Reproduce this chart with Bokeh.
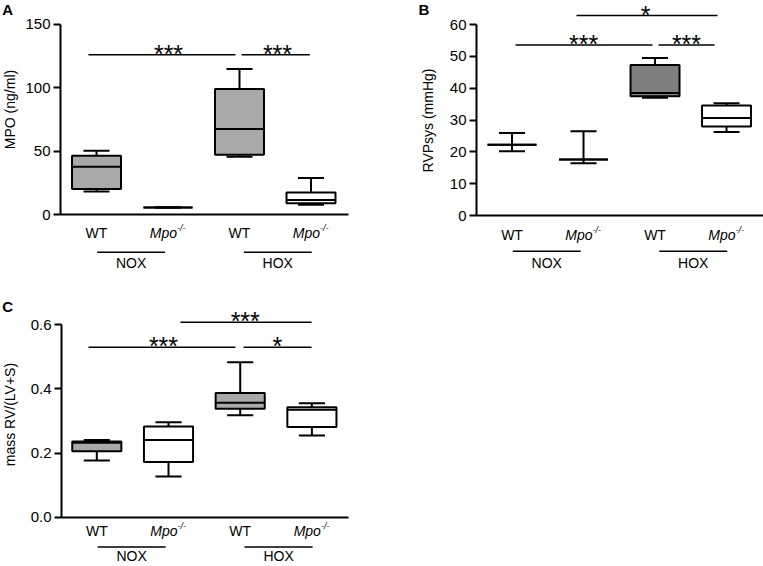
import math
from bokeh.plotting import figure
from bokeh.layouts import column, row
from bokeh.models import Range1d, FixedTicker, NumeralTickFormatter, ColumnDataSource
from bokeh.core.properties import value
from bokeh.embed import file_html
from bokeh.resources import INLINE

# ---------------- data ----------------
positions = [1, 2, 3, 4]
genotypes = ["WT", "Mpo", "WT", "Mpo"]
conditions = ["NOX", "HOX"]
cond_centers = [1.485, 3.535]
cond_x0 = [1.01, 3.06]
cond_x1 = [1.96, 4.01]

# Panel A : MPO (ng/ml)
a_lo = [18.4, 5.8, 45.8, 7.9]
a_q1 = [20.3, 5.8, 47.4, 9.2]
a_med = [37.9, 5.8, 67.7, 11.6]
a_q3 = [46.6, 5.8, 99.2, 17.6]
a_hi = [50.5, 5.8, 115.0, 29.0]
a_fill = ["#a9a9a9", "#ffffff", "#a9a9a9", "#ffffff"]
a_sig_x0 = [0.888, 3.028]
a_sig_x1 = [2.944, 3.983]
a_sig_y = [126.1, 126.1]
a_sig_tx = [2.007, 3.531]
a_sig_text = ["***", "***"]

# Panel B : RVPsys (mmHg)
b_lo = [20.2, 16.4, 37.0, 26.2]
b_q1 = [22.2, 17.6, 37.5, 28.0]
b_med = [22.2, 17.6, 38.5, 30.6]
b_q3 = [22.2, 17.6, 47.3, 34.6]
b_hi = [25.9, 26.5, 49.5, 35.3]
b_fill = ["#a9a9a9", "#ffffff", "#7f7f7f", "#ffffff"]
b_sig_x0 = [1.049, 3.049, 1.902]
b_sig_x1 = [2.965, 3.832, 3.874]
b_sig_y = [53.6, 53.6, 62.8]
b_sig_tx = [2.0, 3.44, 2.867]
b_sig_text = ["***", "***", "*"]

# Panel C : mass RV/(LV+S)
c_lo = [0.177, 0.127, 0.318, 0.255]
c_q1 = [0.206, 0.172, 0.338, 0.281]
c_med = [0.232, 0.241, 0.357, 0.335]
c_q3 = [0.236, 0.283, 0.387, 0.343]
c_hi = [0.241, 0.296, 0.483, 0.355]
c_fill = ["#a9a9a9", "#ffffff", "#a9a9a9", "#ffffff"]
c_sig_x0 = [0.884, 3.046, 2.167]
c_sig_x1 = [2.934, 3.995, 3.995]
c_sig_y = [0.530, 0.530, 0.608]
c_sig_tx = [1.93, 3.52, 3.07]
c_sig_text = ["***", "*", "***"]

FONT = value("Liberation Sans")
BOX_HALF = 0.3425
CAP_HALF = 0.182


def make_panel(letter, ylabel, lo, q1, med, q3, hi, fill, sx0, sx1, sy, stx, stext,
               x_range, y_range, axis_x, x_bounds, y_bounds, ticks, width, height,
               geno_y, line_y, cond_y, letter_pos, title_pos, fmt=None):
    p = figure(width=width, height=height, x_range=Range1d(*x_range), y_range=Range1d(*y_range),
               output_backend="svg", toolbar_location=None, tools="",
               min_border_left=0, min_border_right=0, min_border_top=0, min_border_bottom=0)
    p.outline_line_color = None
    p.grid.visible = False
    p.background_fill_color = "white"
    p.border_fill_color = "white"

    # y axis drawn at a fixed data location
    ya = p.yaxis[0]
    ya.fixed_location = axis_x
    ya.bounds = y_bounds
    ya.ticker = FixedTicker(ticks=ticks)
    ya.minor_tick_line_color = None
    ya.major_tick_in = 0
    ya.major_tick_out = 7
    ya.major_tick_line_width = 2
    ya.axis_line_width = 2
    ya.axis_line_color = "black"
    ya.major_tick_line_color = "black"
    ya.major_label_text_font = "Liberation Sans"
    ya.major_label_text_font_size = "15px"
    ya.major_label_text_color = "black"
    ya.major_label_standoff = 3
    if fmt is not None:
        ya.formatter = NumeralTickFormatter(format=fmt)

    # x axis placed at y = 0
    xa = p.xaxis[0]
    xa.fixed_location = 0
    xa.bounds = x_bounds
    xa.ticker = FixedTicker(ticks=[])
    xa.minor_tick_line_color = None
    xa.major_tick_in = 0
    xa.major_tick_out = 0
    xa.axis_line_width = 2
    xa.axis_line_color = "black"

    left = [x - BOX_HALF for x in positions]
    right = [x + BOX_HALF for x in positions]
    cl = [x - CAP_HALF for x in positions]
    cr = [x + CAP_HALF for x in positions]

    src = ColumnDataSource(dict(x=positions, lo=lo, q1=q1, med=med, q3=q3, hi=hi,
                                left=left, right=right, cl=cl, cr=cr, fill=fill))
    p.segment(x0="x", y0="q3", x1="x", y1="hi", source=src, line_color="black", line_width=2)
    p.segment(x0="x", y0="q1", x1="x", y1="lo", source=src, line_color="black", line_width=2)
    p.quad(left="left", right="right", bottom="q1", top="q3", fill_color="fill",
           line_color="black", line_width=2, source=src)
    p.segment(x0="left", y0="med", x1="right", y1="med", source=src, line_color="black", line_width=2)
    p.segment(x0="cl", y0="hi", x1="cr", y1="hi", source=src, line_color="black", line_width=2)
    p.segment(x0="cl", y0="lo", x1="cr", y1="lo", source=src, line_color="black", line_width=2)

    # significance bars
    p.segment(x0=sx0, y0=sy, x1=sx1, y1=sy, line_color="black", line_width=1.5)
    p.text(x=stx, y=sy, text=stext, text_font=FONT, text_font_size=value("25px"),
           text_align="center", text_baseline="alphabetic", y_offset=-1, text_color="black")

    # genotype labels
    wt_x = [x for x, g in zip(positions, genotypes) if g == "WT"]
    mpo_x = [x for x, g in zip(positions, genotypes) if g == "Mpo"]
    p.text(x=wt_x, y=[geno_y] * len(wt_x), text=["WT"] * len(wt_x), text_font=FONT,
           text_font_size=value("14px"), text_align="center", text_baseline="middle", text_color="black")
    p.text(x=mpo_x, y=[geno_y] * len(mpo_x), text=["Mpo"] * len(mpo_x), text_font=FONT,
           text_font_style="italic", text_font_size=value("14px"), text_align="right",
           text_baseline="middle", x_offset=9, text_color="black")
    p.text(x=mpo_x, y=[geno_y] * len(mpo_x), text=["-/-"] * len(mpo_x), text_font=FONT,
           text_font_style="italic", text_font_size=value("9px"), text_align="left",
           text_baseline="middle", x_offset=9, y_offset=-5, text_color="black")

    # condition lines and labels
    p.segment(x0=cond_x0, y0=[line_y] * 2, x1=cond_x1, y1=[line_y] * 2, line_color="black", line_width=1.5)
    p.text(x=cond_centers, y=[cond_y] * 2, text=conditions, text_font=FONT,
           text_font_size=value("14px"), text_align="center", text_baseline="middle", text_color="black")

    # y axis title (rotated)
    p.text(x=[title_pos[0]], y=[title_pos[1]], text=[ylabel], text_font=FONT, angle=math.pi / 2,
           text_font_size=value("14px"), text_align="center", text_baseline="middle", text_color="black")

    # panel letter
    p.text(x=[letter_pos[0]], y=[letter_pos[1]], text=[letter], text_font=FONT,
           text_font_size=value("15px"), text_font_style="bold", text_align="left",
           text_baseline="top", text_color="black")
    return p


pA = make_panel("A", "MPO (ng/ml)", a_lo, a_q1, a_med, a_q3, a_hi, a_fill,
                a_sig_x0, a_sig_x1, a_sig_y, a_sig_tx, a_sig_text,
                x_range=(-0.3427, 5.2517), y_range=(-51.78, 168.9), axis_x=0.4965,
                x_bounds=(0.4965, 4.5245), y_bounds=(0, 150),
                ticks=[0, 50, 100, 150], width=400, height=280,
                geno_y=-14.3, line_y=-29.5, cond_y=-38.0,
                letter_pos=(-0.319, 168.5), title_pos=(-0.2098, 83.0))

pB = make_panel("B", "RVPsys (mmHg)", b_lo, b_q1, b_med, b_q3, b_hi, b_fill,
                b_sig_x0, b_sig_x1, b_sig_y, b_sig_tx, b_sig_text,
                x_range=(-0.5594, 4.517), y_range=(-20.42, 67.55), axis_x=0.5035,
                x_bounds=(0.5035, 4.517), y_bounds=(0, 60),
                ticks=[0, 10, 20, 30, 40, 50, 60], width=363, height=280,
                geno_y=-6.03, line_y=-11.2, cond_y=-14.9,
                letter_pos=(-0.3077, 67.39), title_pos=(-0.168, 29.85))

pC = make_panel("C", "mass RV/(LV+S)", c_lo, c_q1, c_med, c_q3, c_hi, c_fill,
                c_sig_x0, c_sig_x1, c_sig_y, c_sig_tx, c_sig_text,
                x_range=(-0.3431, 5.2357), y_range=(-0.1537, 0.7381), axis_x=0.5077,
                x_bounds=(0.5077, 4.5105), y_bounds=(0, 0.6),
                ticks=[0, 0.2, 0.4, 0.6], width=400, height=286,
                geno_y=-0.043, line_y=-0.093, cond_y=-0.1215,
                letter_pos=(-0.3194, 0.682), title_pos=(-0.2148, 0.320), fmt="0.0")

layout = column(row(pA, pB), pC)
open("out.html", "w").write(file_html(layout, INLINE))
